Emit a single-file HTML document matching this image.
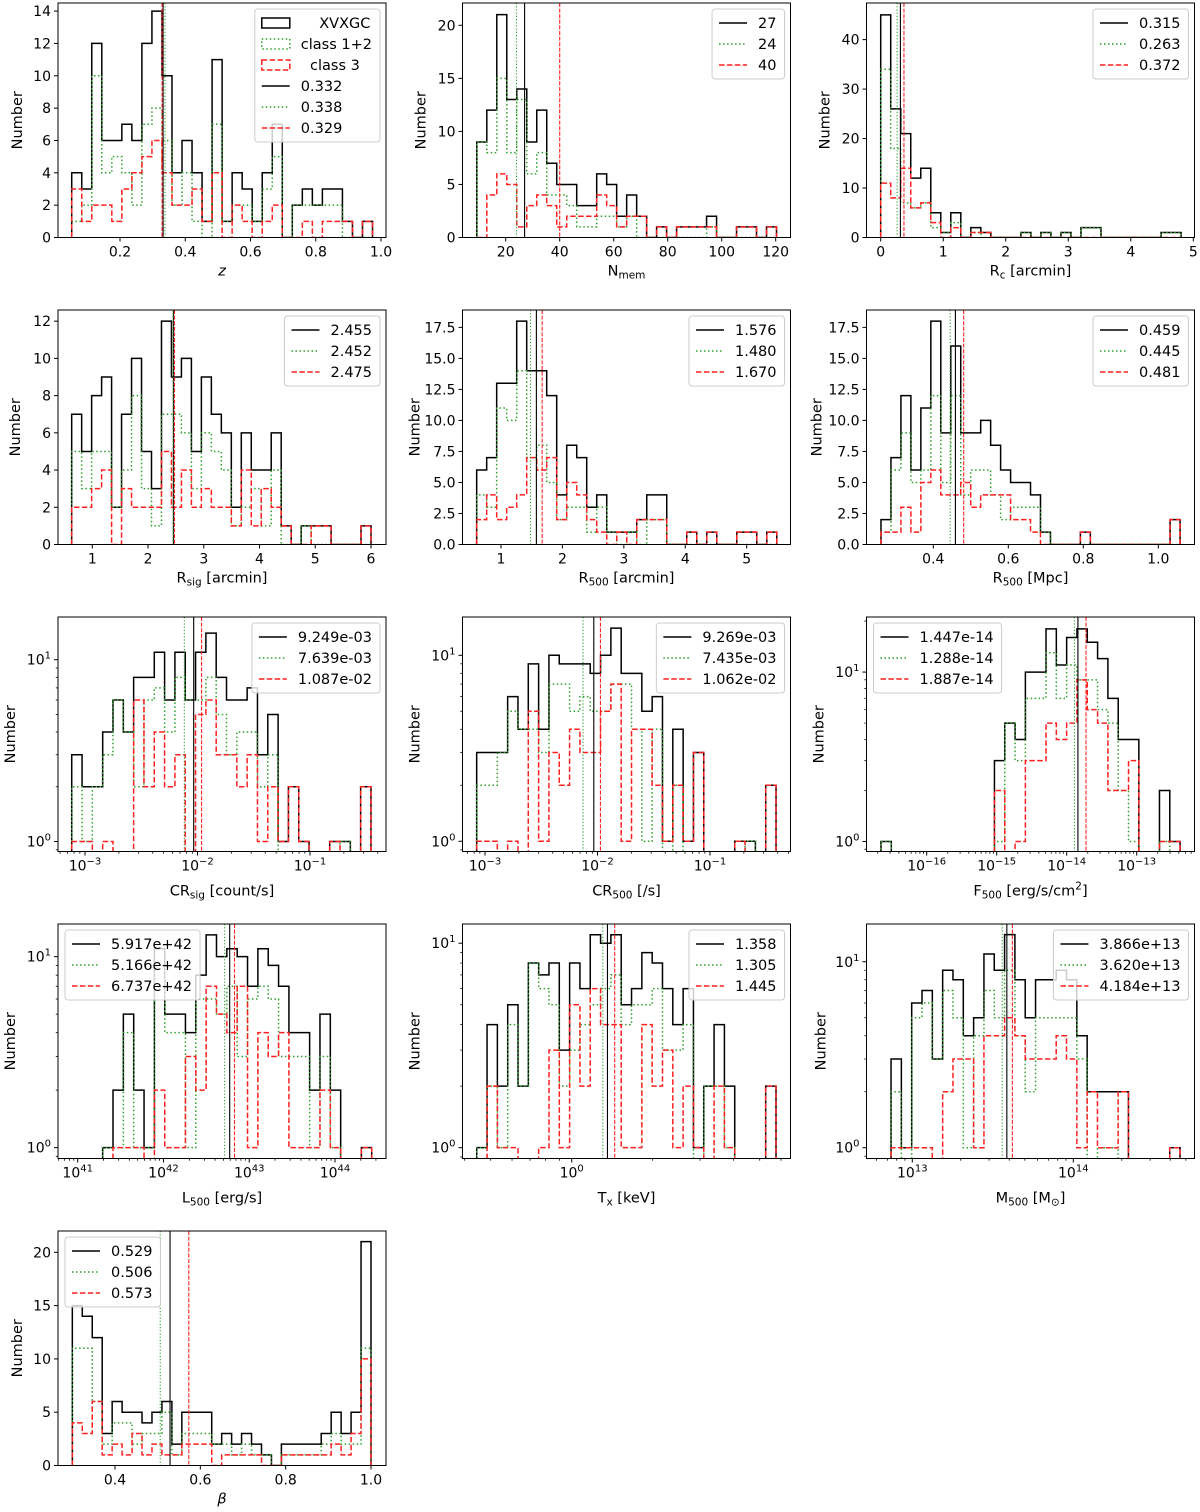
<!DOCTYPE html>
<html><head><meta charset="utf-8">
<style>
html,body{margin:0;padding:0;background:#fff;}
svg{display:block;font-family:"DejaVu Sans","Liberation Sans",sans-serif;}
</style></head>
<body>
<svg id="fig" xmlns="http://www.w3.org/2000/svg" width="1200" height="1512" viewBox="0 0 1200 1512"></svg>
<script>
// ---------- data ----------
const z_black=[4,3,12,6,6,7,6,12,14,10,4,6,4,1,11,1,4,3,1,4,7,0,2,3,2,3,3,1,0,1];
const z_green=[1,2,10,4,5,4,2,7,8,6,2,4,1,0,7,1,2,2,1,3,5,0,2,2,2,2,2,0,0,0];
const z_red=[3,1,2,2,1,3,4,5,6,4,2,2,3,1,4,0,2,1,0,1,2,0,0,1,0,1,1,1,0,1];
const z_means=[0.332,0.338,0.329];
const z_labels=['0.332','0.338','0.329'];

const nmem_black=[9,12,21,13,14,9,12,7,5,5,3,3,6,5,2,4,2,0,1,0,1,1,1,2,0,0,1,1,0,1];
const nmem_green=[9,8,15,8,13,6,8,4,4,3,1,1,2,2,1,2,0,0,0,0,0,0,0,1,0,0,0,0,0,0];
const nmem_red=[0,4,6,5,1,3,4,3,1,2,2,2,4,3,1,2,2,0,1,0,1,1,1,1,0,0,1,1,0,1];
const nmem_means=[27,24,40];
const nmem_labels=['27','24','40'];

const rc_black=[45,26,21,12,14,5,1,5,0,2,1,0,0,0,1,0,1,0,1,0,2,2,0,0,0,0,0,0,1,1];
const rc_green=[34,18,7,6,7,2,1,3,0,1,0,0,0,0,1,0,1,0,1,0,2,2,0,0,0,0,0,0,1,1];
const rc_red=[11,8,14,6,7,3,0,2,0,1,1,0,0,0,0,0,0,0,0,0,0,0,0,0,0,0,0,0,0,0];
const rc_means=[0.315,0.263,0.372];
const rc_labels=['0.315','0.263','0.372'];

const rsig_black=[7,5,8,9,2,7,10,5,3,12,9,10,5,9,7,6,2,6,4,4,6,1,0,1,1,1,0,0,0,1];
const rsig_green=[5,3,5,5,2,4,8,3,1,7,7,6,3,6,5,4,1,2,3,1,4,0,0,1,0,0,0,0,0,0];
const rsig_red=[2,2,3,4,0,3,2,2,2,5,2,4,2,3,2,2,1,4,1,3,2,1,0,0,1,1,0,0,0,1];
const rsig_means=[2.455,2.452,2.475];
const rsig_labels=['2.455','2.452','2.475'];

const r500a_black=[6,7,13,13,18,14,14,12,4,8,7,3,4,1,1,1,2,4,4,0,0,1,0,1,0,0,1,1,0,1];
const r500a_green=[4,3,11,10,14,7,8,5,2,3,3,1,3,1,0,1,0,2,2,0,0,0,0,0,0,0,0,0,0,0];
const r500a_red=[2,4,2,3,4,7,6,7,2,5,4,2,1,0,1,0,2,2,2,0,0,1,0,1,0,0,1,1,0,1];
const r500a_means=[1.576,1.480,1.670];
const r500a_labels=['1.576','1.480','1.670'];

const r500m_black=[2,7,12,6,11,18,9,16,9,9,10,8,6,5,5,4,1,0,0,0,1,0,0,0,0,0,0,0,0,2];
const r500m_green=[1,6,9,5,6,12,5,12,4,6,6,4,2,3,3,3,1,0,0,0,0,0,0,0,0,0,0,0,0,0];
const r500m_red=[1,1,3,1,5,6,4,4,5,3,4,4,4,2,2,1,0,0,0,0,1,0,0,0,0,0,0,0,0,2];
const r500m_means=[0.459,0.445,0.481];
const r500m_labels=['0.459','0.445','0.481'];

const crsig_black=[3,2,2,4,6,4,8,8,11,6,11,6,11,14,8,6,6,7,3,5,1,2,1,0,0,1,1,0,2];
const crsig_green=[2,1,2,3,6,4,2,6,7,4,8,6,6,8,5,3,4,4,2,3,0,0,0,0,0,0,1,0,0];
const crsig_red=[1,1,0,1,0,0,6,2,4,2,3,0,5,6,3,3,2,3,1,2,1,2,1,0,0,1,0,0,2];
const crsig_means=[9.249e-3,7.639e-3,1.087e-2];
const crsig_labels=['9.249e-03','7.639e-03','1.087e-02'];

const cr500_black=[3,3,3,6,4,9,4,10,9,9,9,8,10,14,8,8,5,6,1,4,1,3,0,0,0,1,1,0,2];
const cr500_green=[2,2,3,5,4,4,3,7,7,5,6,5,5,7,7,4,1,4,0,2,0,0,0,0,0,0,1,0,0];
const cr500_red=[1,1,0,1,0,5,1,3,2,4,3,3,5,7,1,4,4,2,1,2,1,3,0,0,0,1,0,0,2];
const cr500_means=[9.269e-3,7.435e-3,1.062e-2];
const cr500_labels=['9.269e-03','7.435e-03','1.062e-02'];

const f500_black=[1,0,0,0,0,0,0,0,0,0,0,3,5,4,10,10,18,11,16,18,15,12,7,4,4,0,0,2,1];
const f500_green=[1,0,0,0,0,0,0,0,0,0,0,1,5,3,7,7,13,7,11,9,9,6,5,2,1,0,0,1,0];
const f500_red=[0,0,0,0,0,0,0,0,0,0,0,2,0,1,3,3,5,4,5,9,6,5,2,2,3,0,0,1,1];
const f500_means=[1.447e-14,1.288e-14,1.887e-14];
const f500_labels=['1.447e-14','1.288e-14','1.887e-14'];

const l500_black=[1,2,5,2,1,11,5,5,4,8,13,10,11,10,7,11,9,7,4,4,2,5,2,0,0,1];
const l500_green=[1,1,4,1,1,9,4,4,1,6,6,5,7,3,6,7,6,3,3,3,1,3,1,0,0,0];
const l500_red=[0,1,1,1,0,2,1,1,3,2,7,5,4,7,1,4,3,4,1,1,1,2,1,0,0,1];
const l500_means=[5.917e42,5.166e42,6.737e42];
const l500_labels=['5.917e+42','5.166e+42','6.737e+42'];

const tx_black=[1,4,2,5,2,8,7,8,3,8,6,11,10,11,5,6,9,8,6,4,6,1,2,4,2,0,0,0,2];
const tx_green=[1,2,1,4,2,8,6,5,2,3,4,5,6,7,4,5,5,6,3,3,4,0,2,2,1,0,0,0,0];
const tx_red=[0,2,1,1,0,0,1,3,1,5,2,6,4,4,1,1,4,2,3,1,2,1,0,2,1,0,0,0,2];
const tx_means=[1.358,1.305,1.445];
const tx_labels=['1.358','1.305','1.445'];

const m500_black=[3,1,6,7,3,9,8,4,5,11,9,14,8,5,8,8,9,8,4,2,2,2,2,0,0,0,0,1];
const m500_green=[2,0,5,6,3,7,5,1,4,7,5,9,4,2,5,5,5,5,3,0,1,1,0,0,0,0,0,0];
const m500_red=[1,1,1,1,0,2,3,3,1,4,4,5,4,3,3,3,4,3,1,2,1,1,2,0,0,0,0,1];
const m500_means=[3.866e13,3.620e13,4.184e13];
const m500_labels=['3.866e+13','3.620e+13','4.184e+13'];

const beta_black=[15,14,12,3,6,5,5,4,5,6,2,5,5,5,2,3,2,3,2,1,0,2,2,2,2,3,5,3,5,21];
const beta_green=[11,11,6,2,4,4,2,3,3,5,1,3,3,3,2,2,1,2,1,1,0,1,1,1,1,2,3,2,2,11];
const beta_red=[4,3,6,1,2,1,3,1,2,1,1,2,2,2,0,1,1,1,1,0,0,1,1,1,1,1,2,1,3,10];
const beta_means=[0.529,0.506,0.573];
const beta_labels=['0.529','0.506','0.573'];

// tick label arrays
const ticks_z=[0.2,0.4,0.6,0.8,1.0], ticks_nmem=[20,40,60,80,100,120], ticks_rc=[0,1,2,3,4,5];
const ticks_rsig=[1,2,3,4,5,6], ticks_r500a=[1,2,3,4,5], ticks_r500m=[0.4,0.6,0.8,1.0], ticks_beta=[0.4,0.6,0.8,1.0];
const ticks_crsig=[-3,-2,-1], ticks_cr500=[-3,-2,-1], ticks_f500=[-16,-15,-14,-13], ticks_l500=[41,42,43,44], ticks_tx=[0], ticks_m500=[13,14];

// ---------- layout config (positions only) ----------
const W=328, H=234.5;
const panels=[
 {id:'z',L:58,T:3,x1:[0.2,120],x2:[1.0,381],bins:[0.052,0.974],xlog:false,ylog:false,ymax:14.5,yt:[0,2,4,6,8,10,12,14],yfmt:0,xt:ticks_z,xfmt:1,ylx:41,leg:'r',first:true,
  xl:[['z','i']],b:z_black,g:z_green,r:z_red,m:z_means,lab:z_labels},
 {id:'nmem',L:462.5,T:3,x1:[20,505.7],x2:[120,775.7],bins:[9.3,120.3],xlog:false,ylog:false,ymax:22.1,yt:[0,5,10,15,20],yfmt:0,xt:ticks_nmem,xfmt:0,ylx:42,leg:'r',
  xl:[['N',''],['mem','sub']],b:nmem_black,g:nmem_green,r:nmem_red,m:nmem_means,lab:nmem_labels},
 {id:'rc',L:866.5,T:3,x1:[0,880.7],x2:[5,1193.3],bins:[0,4.805],xlog:false,ylog:false,ymax:47.4,yt:[0,10,20,30,40],yfmt:0,xt:ticks_rc,xfmt:0,ylx:42,leg:'r',
  xl:[['R',''],['c','sub'],[' [arcmin]','']],b:rc_black,g:rc_green,r:rc_red,m:rc_means,lab:rc_labels},
 {id:'rsig',L:58,T:310,x1:[1,92.3],x2:[6,371],bins:[0.63,6.0],xlog:false,ylog:false,ymax:12.6,yt:[0,2,4,6,8,10,12],yfmt:0,xt:ticks_rsig,xfmt:0,ylx:43,leg:'r',
  xl:[['R',''],['sig','sub'],[' [arcmin]','']],b:rsig_black,g:rsig_green,r:rsig_red,m:rsig_means,lab:rsig_labels},
 {id:'r500a',L:462.5,T:310,x1:[1,501],x2:[5,746.7],bins:[0.604,5.49],xlog:false,ylog:false,ymax:18.9,yt:[0,2.5,5,7.5,10,12.5,15,17.5],yfmt:1,xt:ticks_r500a,xfmt:0,ylx:48,leg:'r',
  xl:[['R',''],['500','sub'],[' [arcmin]','']],b:r500a_black,g:r500a_green,r:r500a_red,m:r500a_means,lab:r500a_labels},
 {id:'r500m',L:866.5,T:310,x1:[0.4,933.3],x2:[1.0,1158.3],bins:[0.2605,1.058],xlog:false,ylog:false,ymax:18.9,yt:[0,2.5,5,7.5,10,12.5,15,17.5],yfmt:1,xt:ticks_r500m,xfmt:1,ylx:50,leg:'r',
  xl:[['R',''],['500','sub'],[' [Mpc]','']],b:r500m_black,g:r500m_green,r:r500m_red,m:r500m_means,lab:r500m_labels},
 {id:'crsig',L:58,T:617,x1:[-3,85],x2:[-1,310],bins:[-3.118,-0.458],xlog:true,ylog:true,ymin:-0.055,ymax:1.235,xt:ticks_crsig,ylx:48,leg:'r',
  xl:[['CR',''],['sig','sub'],[' [count/s]','']],b:crsig_black,g:crsig_green,r:crsig_red,m:crsig_means,lab:crsig_labels},
 {id:'cr500',L:462.5,T:617,x1:[-3,485],x2:[-1,710],bins:[-3.074,-0.413],xlog:true,ylog:true,ymin:-0.055,ymax:1.206,xt:ticks_cr500,ylx:48,leg:'r',
  xl:[['CR',''],['500','sub'],[' [/s]','']],b:cr500_black,g:cr500_green,r:cr500_red,m:cr500_means,lab:cr500_labels},
 {id:'f500',L:866.5,T:617,x1:[-16,926.7],x2:[-13,1136.7],bins:[-16.653,-12.38],xlog:true,ylog:true,ymin:-0.059,ymax:1.325,xt:ticks_f500,ylx:48,leg:'l',
  xl:[['F',''],['500','sub'],[' [erg/s/cm',''],['2','sup'],[']','']],b:f500_black,g:f500_green,r:f500_red,m:f500_means,lab:f500_labels},
 {id:'l500',L:58,T:924,x1:[41,77.7],x2:[44,335],bins:[41.291,44.428],xlog:true,ylog:true,ymin:-0.057,ymax:1.171,xt:ticks_l500,ylx:48,leg:'l',
  xl:[['L',''],['500','sub'],[' [erg/s]','']],b:l500_black,g:l500_green,r:l500_red,m:l500_means,lab:l500_labels},
 {id:'tx',L:462.5,T:924,x1:[0,571.7],x2:[1,840.7],bins:[-0.353,0.7595],xlog:true,ylog:true,ymin:-0.053,ymax:1.094,xt:ticks_tx,ylx:48,leg:'r',
  xl:[['T',''],['x','sub'],[' [keV]','']],b:tx_black,g:tx_green,r:tx_red,m:tx_means,lab:tx_labels},
 {id:'m500',L:866.5,T:924,x1:[13,912.3],x2:[14,1073.3],bins:[12.868,14.663],xlog:true,ylog:true,ymin:-0.058,ymax:1.203,xt:ticks_m500,ylx:46,leg:'r',
  xl:[['M',''],['500','sub'],[' [M',''],['\u2299','sub'],[']','']],b:m500_black,g:m500_green,r:m500_red,m:m500_means,lab:m500_labels},
 {id:'beta',L:58,T:1231,x1:[0.4,115],x2:[1.0,371],bins:[0.3,1.0],xlog:false,ylog:false,ymax:22,yt:[0,5,10,15,20],yfmt:0,xt:ticks_beta,xfmt:1,ylx:41,leg:'l',
  xl:[['\u03b2','i']],b:beta_black,g:beta_green,r:beta_red,m:beta_means,lab:beta_labels}
];

const NS='http://www.w3.org/2000/svg';
const root=document.getElementById('fig');
function mk(tag,parent,attrs){const e=document.createElementNS(NS,tag);for(const k in attrs)e.setAttribute(k,attrs[k]);parent.appendChild(e);return e;}
const COL={b:'#000000',g:'#2ca02c',r:'#ff2020'};
const DASH={b:'none',g:'1.5,2.5',r:'5.5,2.4'};
const SUP={'-':'\u2212','0':'0','1':'1','2':'2','3':'3','4':'4','5':'5','6':'6'};

function drawPanel(P){
  const L=P.L,T=P.T,R=L+W,B=T+H;
  const g=mk('g',root,{});
  
  
  const xs=v=>P.x1[1]+(v-P.x1[0])*(P.x2[1]-P.x1[1])/(P.x2[0]-P.x1[0]);
  const xinv=p=>P.x1[0]+(p-P.x1[1])*(P.x2[0]-P.x1[0])/(P.x2[1]-P.x1[1]);
  const ys=P.ylog?(c=>c<=0?B+6:B-(Math.log10(c)-P.ymin)/(P.ymax-P.ymin)*H):(c=>B-c/P.ymax*H);
  const cid='clip-'+P.id;
  const cp=mk('clipPath',g,{id:cid});mk('rect',cp,{x:L,y:T,width:W,height:H});
  const plot=mk('g',g,{'clip-path':'url(#'+cid+')'});
  
  
  ['b','g','r'].forEach(k=>{
    const counts=P[k];const n=counts.length;const lo=P.bins[0],hi=P.bins[1];
    const e=i=>xs(lo+i*(hi-lo)/n);
    let d='M'+e(0)+','+ys(0);
    for(let i=0;i<n;i++){d+=' L'+e(i)+','+ys(counts[i])+' L'+e(i+1)+','+ys(counts[i]);}
    d+=' L'+e(n)+','+ys(0);
    const p=mk('path',plot,{d:d,fill:'none',stroke:COL[k],'stroke-width':1.5,'stroke-dasharray':DASH[k],'stroke-linejoin':'miter'});
    
    
  });
  ['b','g','r'].forEach((k,i)=>{
    const v=P.xlog?Math.log10(P.m[i]):P.m[i];const x=xs(v);
    const ln=mk('line',plot,{x1:x,x2:x,y1:T,y2:B,stroke:COL[k],'stroke-width':1.1,'stroke-dasharray':k==='g'?'1.2,2':(k==='r'?'4,1.6':'none')});
    
    
  });
  const fr=mk('rect',g,{x:L,y:T,width:W,height:H,fill:'none',stroke:'#000','stroke-width':1});
  
  
  const xa=mk('g',g,{'font-size':'14px',fill:'#000'});
  
  
  P.xt.forEach(v=>{
    const x=xs(v);
    mk('line',xa,{x1:x,x2:x,y1:B,y2:B+4,stroke:'#000','stroke-width':1});
    const t=mk('text',xa,{x:x,y:B+19,'text-anchor':'middle'});
    if(P.xlog){t.textContent='10';const s=mk('tspan',t,{dy:-6,'font-size':'10px'});s.textContent=String(v).split('').map(c=>SUP[c]).join('');}
    else t.textContent=P.xfmt?v.toFixed(P.xfmt):String(v);
  });
  if(P.xlog){
    const a=xinv(L),bb=xinv(R);
    for(let d=Math.floor(a);d<=Math.ceil(bb);d++){for(let k=2;k<10;k++){const v=d+Math.log10(k);if(v>a&&v<bb){const x=xs(v);mk('line',xa,{x1:x,x2:x,y1:B,y2:B+2.2,stroke:'#000','stroke-width':0.8});}}}
  }
  const ya=mk('g',g,{'font-size':'14px',fill:'#000'});
  
  
  if(P.ylog){
    [0,1].forEach(e=>{const y=ys(Math.pow(10,e));mk('line',ya,{x1:L-4,x2:L,y1:y,y2:y,stroke:'#000','stroke-width':1});
      const t=mk('text',ya,{x:L-7,y:y+5,'text-anchor':'end'});t.textContent='10';const s=mk('tspan',t,{dy:-6,'font-size':'10px'});s.textContent=String(e);});
    [0.9,2,3,4,5,6,7,8,9,20].forEach(c=>{const lv=Math.log10(c);if(lv>P.ymin&&lv<P.ymax){const y=ys(c);mk('line',ya,{x1:L-2.2,x2:L,y1:y,y2:y,stroke:'#000','stroke-width':0.8});}});
  } else {
    P.yt.forEach(c=>{const y=ys(c);mk('line',ya,{x1:L-4,x2:L,y1:y,y2:y,stroke:'#000','stroke-width':1});
      const t=mk('text',ya,{x:L-7,y:y+5,'text-anchor':'end'});t.textContent=c.toFixed(P.yfmt);});
  }
  const yl=mk('text',g,{x:L-P.ylx,y:T+H/2,'text-anchor':'middle','font-size':'14.5px',transform:'rotate(-90 '+(L-P.ylx)+' '+(T+H/2)+')',dy:'0.35em'});
  yl.textContent='Number';
  
  
  const xlT=mk('text',g,{x:L+W/2,y:B+(P.xlog?44:38),'text-anchor':'middle','font-size':'14.5px'});
  
  
  let off=0;
  P.xl.forEach(([s,m])=>{
    let target=0,attrs={};
    if(m==='sub'){target=3;attrs['font-size']='10.5px';}
    else if(m==='sup'){target=-6;attrs['font-size']='10.5px';}
    else if(m==='i'){attrs['font-style']='italic';}
    attrs.dy=target-off;off=target;
    const ts=mk('tspan',xlT,attrs);ts.setAttribute('style','white-space:pre');ts.textContent=s;
  });
  const lg=mk('g',g,{'font-size':'14.5px'});
  
  
  const entries=[];
  if(P.first){entries.push(['pb','    XVXGC'],['pg','class 1+2'],['pr','  class 3']);}
  ['b','g','r'].forEach((k,i)=>entries.push(['l'+k,P.lab[i]]));
  const n=entries.length,bh=n*21+7;
  const box=mk('rect',lg,{x:0,y:T+6,width:10,height:bh,rx:3,fill:'#fff','fill-opacity':0.8,stroke:'#cccccc','stroke-width':1});
  
  
  const items=[];let maxw=0;
  entries.forEach((en,i)=>{
    const cy=T+6+14+i*21;
    const t=mk('text',lg,{x:0,y:cy+5});t.setAttribute('style','white-space:pre');t.textContent=en[1];
    
    
    maxw=Math.max(maxw,t.getComputedTextLength());items.push([en[0],cy,t]);
  });
  const bw=6+29+11+maxw+8;
  const bx=P.leg==='r'?R-6-bw:L+7;
  box.setAttribute('x',bx);box.setAttribute('width',bw);
  items.forEach(([kind,cy,t])=>{
    t.setAttribute('x',bx+46);
    const k=kind[1];
    if(kind[0]==='p'){mk('rect',lg,{x:bx+7,y:cy-5,width:28,height:10,fill:'none',stroke:COL[k],'stroke-width':1.5,'stroke-dasharray':DASH[k]});}
    else mk('line',lg,{x1:bx+7,x2:bx+35,y1:cy,y2:cy,stroke:COL[k],'stroke-width':1.5,'stroke-dasharray':DASH[k]});
  });
}
panels.forEach(drawPanel);
</script>
</body></html>
